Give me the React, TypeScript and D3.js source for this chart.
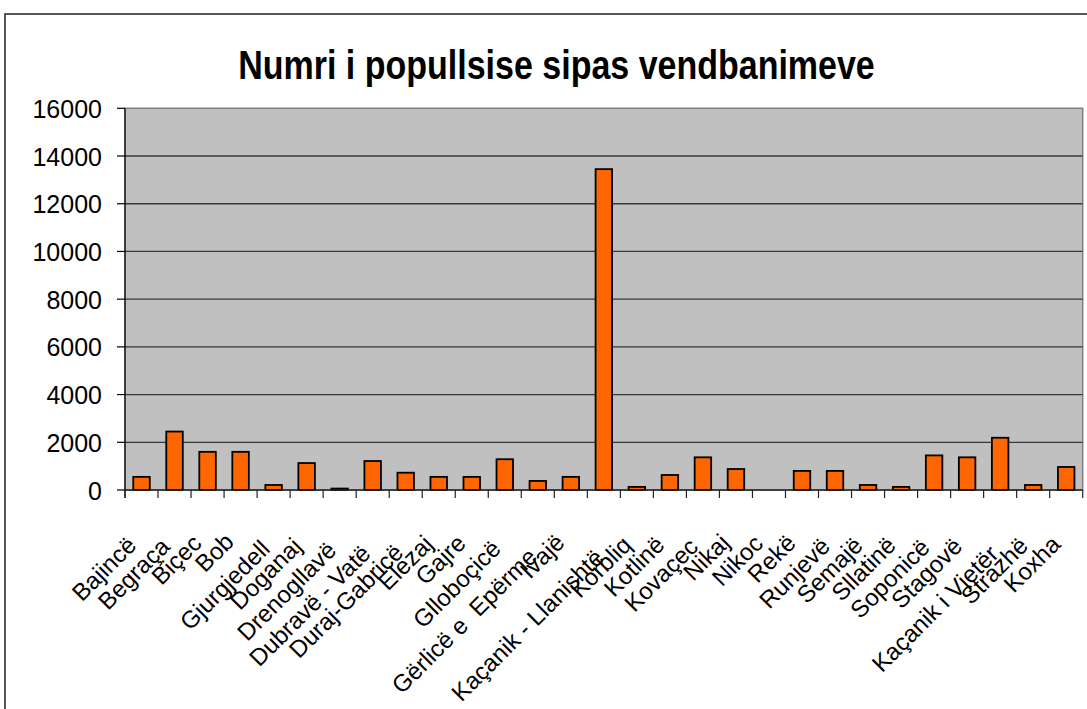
import React from "react";
import * as d3 from "d3";

const categories: string[] = [
  "Bajincë", "Begraça", "Biçec", "Bob", "Gjurgjedell", "Doganaj", "Drenogllavë",
  "Dubravë - Vatë", "Duraj-Gabricë", "Elezaj", "Gajre", "Glloboçicë",
  "Gërlicë e  Epërme", "Ivajë", "Kaçanik - Llanishtë", "Korbliq", "Kotlinë",
  "Kovaçec", "Nikaj", "Nikoc", "Rekë", "Runjevë", "Semajë", "Sllatinë",
  "Soponicë", "Stagovë", "Kaçanik i Vjetër", "Strazhë", "Koxha",
];

const population: number[] = [
  550, 2450, 1600, 1600, 210, 1130, 60, 1215, 725, 550, 550, 1290, 380, 550,
  13450, 130, 630, 1370, 880, 0, 800, 800, 210, 130, 1450, 1370, 2190, 210, 965,
];

const yTicks: number[] = [0, 2000, 4000, 6000, 8000, 10000, 12000, 14000, 16000];

const title = "Numri i popullsise sipas vendbanimeve";

function measure(text: string, size: number, family: string): number {
  if (typeof document === "undefined") return text.length * size * 0.5;
  const c = document.createElement("canvas").getContext("2d");
  if (!c) return text.length * size * 0.5;
  c.font = `${size}px ${family}`;
  return c.measureText(text).width;
}

export default function App() {
  const W = 1087;
  const H = 709;
  const left = 125;
  const right = 1082.7;
  const top = 108.3;
  const bottom = 490;

  const x = d3.scaleBand<string>().domain(categories).range([left, right]).paddingInner(0.5).paddingOuter(0.25);
  const xb = d3.scaleBand<string>().domain(categories).range([left, right]);
  const y = d3.scaleLinear().domain([0, 16000]).range([bottom, top]);

  const font = "'Liberation Sans', Arial, sans-serif";
  const labelSize = 24;

  return (
    <svg width={W} height={H} style={{ position: "absolute", left: 0, top: 0, background: "#fff" }}>
      {/* outer chart border */}
      <rect x={5} y={14} width={W + 10} height={H + 10} fill="#fff" stroke="#222" strokeWidth={1.5} />

      {/* title */}
      <text
        x={0}
        y={0}
        transform={`translate(${(236 + 877) / 2},78.5) scale(0.85,1)`}
        textAnchor="middle"
        fontFamily={font}
        fontWeight="bold"
        fontSize={40}
        fill="#000"
      >
        {title}
      </text>

      {/* plot area */}
      <rect x={left} y={top} width={right - left} height={bottom - top} fill="#C0C0C0" stroke="#808080" strokeWidth={1.5} />

      {/* gridlines */}
      {yTicks.filter((t) => t > 0 && t < 16000).map((t) => (
        <line key={"g" + t} x1={left} x2={right} y1={y(t)} y2={y(t)} stroke="#383838" strokeWidth={1.3} />
      ))}

      {/* y axis */}
      <line x1={left} x2={left} y1={top} y2={bottom + 8} stroke="#000" strokeWidth={1.2} />
      {yTicks.map((t) => (
        <g key={"t" + t}>
          <line x1={left - 8} x2={left} y1={y(t)} y2={y(t)} stroke="#000" strokeWidth={1.2} />
          <text x={102} y={y(t) + 3} textAnchor="end" dominantBaseline="middle" fontFamily={font} fontSize={25} fill="#000">
            {t}
          </text>
        </g>
      ))}

      {/* bars */}
      {categories.map((c, i) => (
        <rect
          key={"b" + c}
          x={x(c)!}
          y={y(population[i])}
          width={x.bandwidth()}
          height={bottom - y(population[i])}
          fill="#FF6600"
          stroke="#000"
          strokeWidth={1.8}
        />
      ))}

      {/* x axis */}
      <line x1={left} x2={right} y1={bottom} y2={bottom} stroke="#222" strokeWidth={1.4} />
      {categories.map((c) => (
        <line key={"xt" + c} x1={xb(c)!} x2={xb(c)!} y1={bottom} y2={bottom + 8} stroke="#222" strokeWidth={1.2} />
      ))}
      <line x1={right} x2={right} y1={bottom} y2={bottom + 8} stroke="#222" strokeWidth={1.2} />

      {/* x labels */}
      {categories.map((c) => {
        const L = measure(c, labelSize, font);
        const cx = xb(c)! + xb.bandwidth() / 2 - 7 + 0.04 * L;
        const cy = 539 + 0.1 * L;
        return (
          <text
            key={"xl" + c}
            transform={`translate(${cx},${cy}) rotate(-45)`}
            textAnchor="end"
            fontFamily={font}
            fontSize={labelSize}
            fill="#000"
            style={{ whiteSpace: "pre" }}
          >
            {c}
          </text>
        );
      })}
    </svg>
  );
}
